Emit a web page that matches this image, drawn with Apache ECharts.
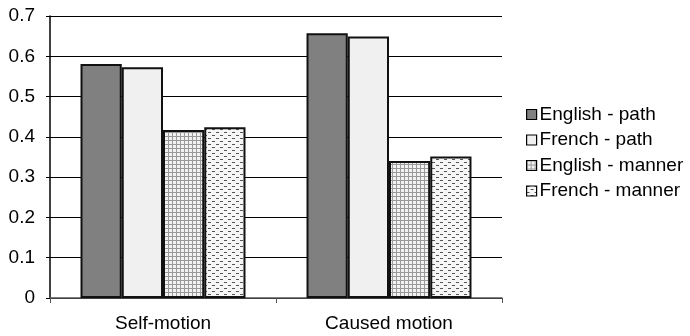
<!DOCTYPE html>
<html>
<head>
<meta charset="utf-8">
<script src="https://cdn.jsdelivr.net/npm/echarts@6/dist/echarts.min.js"></script>
<style>
  html, body { margin: 0; padding: 0; background: #fff; }
  #chart { width: 690px; height: 336px; }
</style>
</head>
<body>
<div id="chart"></div>
<script>
// Share of descriptions by verb type, per motion event
const categories = ['Self-motion', 'Caused motion'];
const seriesNames = ['English - path', 'French - path', 'English - manner', 'French - manner'];
const englishPath = [0.581, 0.657];
const frenchPath = [0.573, 0.649];
const englishManner = [0.417, 0.340];
const frenchManner = [0.424, 0.351];
const yTicks = [0, 0.1, 0.2, 0.3, 0.4, 0.5, 0.6, 0.7];

// Small fill patterns for the manner bars
function gridPattern() {
  const c = document.createElement('canvas');
  c.width = 4; c.height = 4;
  const g = c.getContext('2d');
  g.fillStyle = '#f2f2f2';
  g.fillRect(0, 0, 4, 4);
  g.fillStyle = '#9a9a9a';
  g.fillRect(0, 0, 4, 1);
  g.fillRect(0, 0, 1, 4);
  return c;
}
function dashPattern() {
  const c = document.createElement('canvas');
  c.width = 8; c.height = 6;
  const g = c.getContext('2d');
  g.fillStyle = '#f6f6f6';
  g.fillRect(0, 0, 8, 6);
  g.fillStyle = '#555';
  g.fillRect(0, 0, 3, 1);
  g.fillRect(4, 3, 3, 1);
  return c;
}

const fills = [
  '#808080',
  '#f0f0f0',
  { image: gridPattern(), repeat: 'repeat' },
  { image: dashPattern(), repeat: 'repeat' }
];
const values = [englishPath, frenchPath, englishManner, frenchManner];

const chart = echarts.init(document.getElementById('chart'), null, { renderer: 'canvas' });
chart.setOption({
  animation: false,
  textStyle: { fontFamily: 'Liberation Sans, Arial, sans-serif' },
  grid: { left: 50, right: 188, top: 16, bottom: 38, containLabel: false },
  legend: {
    orient: 'vertical',
    left: 526,
    top: 105,
    padding: 0,
    itemWidth: 10,
    itemHeight: 10,
    itemGap: 6.5,
    icon: 'rect',
    textStyle: { fontSize: 19, lineHeight: 19, color: '#000', padding: [0, 0, 0, -2] },
    data: seriesNames.map((n, i) => ({
      name: n,
      itemStyle: { color: fills[i], borderColor: '#000', borderWidth: 1.2 }
    }))
  },
  xAxis: {
    type: 'category',
    data: categories,
    axisLine: { lineStyle: { color: '#555', width: 1.5 } },
    axisTick: { show: true, length: 5, lineStyle: { color: '#555' } },
    axisLabel: { fontSize: 19, color: '#000', margin: 16 },
    splitLine: { show: false }
  },
  yAxis: {
    type: 'value',
    min: yTicks[0],
    max: yTicks[yTicks.length - 1],
    interval: 0.1,
    axisLine: { show: true, lineStyle: { color: '#000', width: 1.5 } },
    axisTick: { show: true, length: 4, lineStyle: { color: '#000' } },
    axisLabel: { fontSize: 19, color: '#000', margin: 15, formatter: v => String(Math.round(v * 10) / 10) },
    splitLine: { show: true, lineStyle: { color: '#000', width: 1 } }
  },
  series: seriesNames.map((n, i) => ({
    name: n,
    type: 'bar',
    data: values[i],
    barGap: '0%',
    barCategoryGap: '27%',
    itemStyle: { color: fills[i], borderColor: '#111', borderWidth: 2 }
  }))
});
</script>
</body>
</html>
